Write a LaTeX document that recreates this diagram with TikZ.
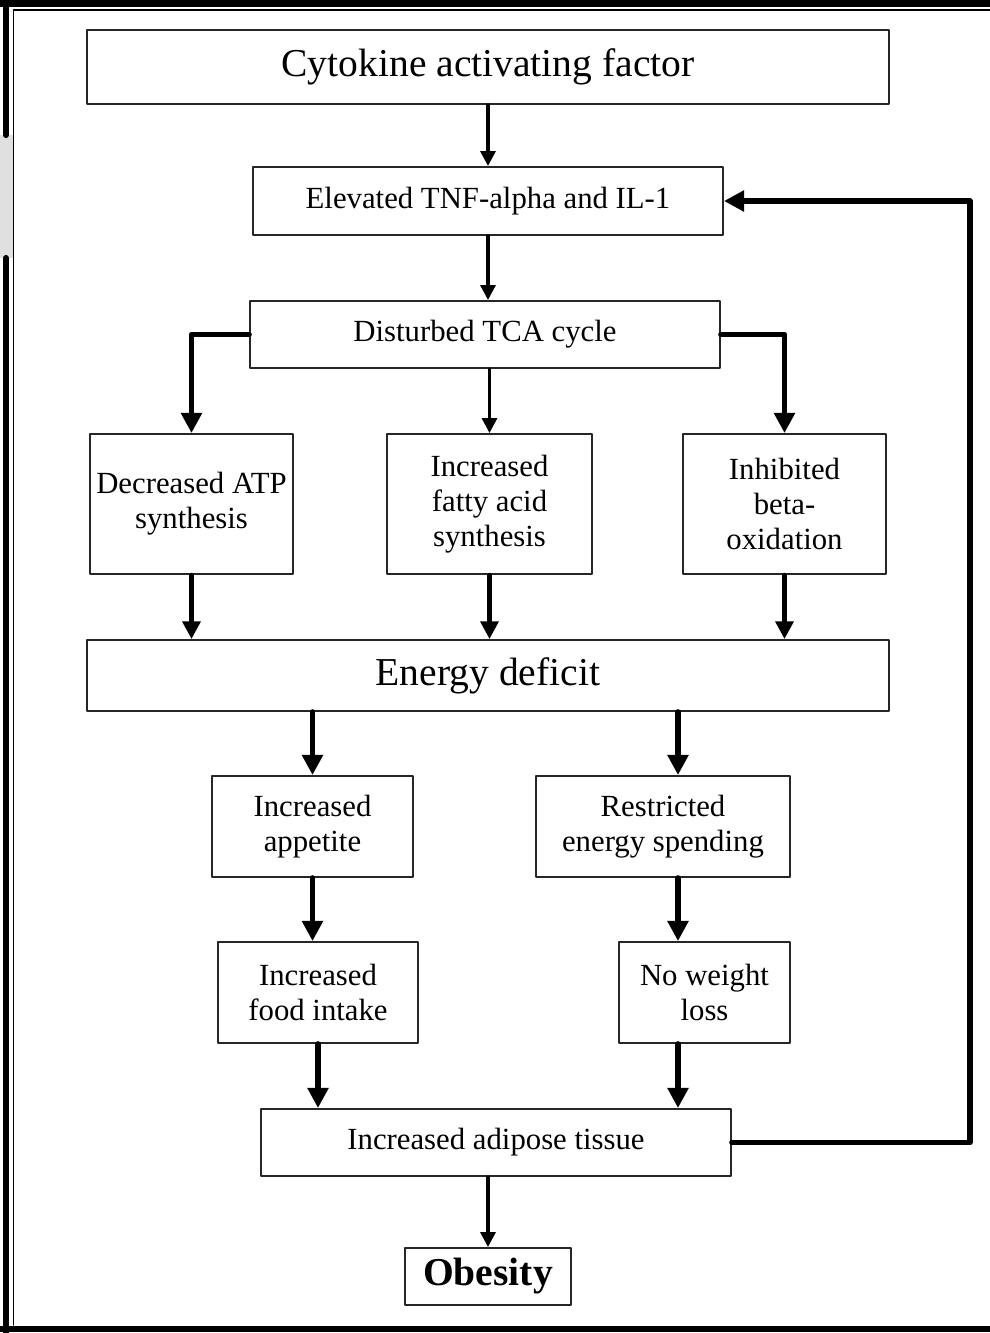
\documentclass[tikz,border=0pt]{standalone}
\usepackage{fontspec}
\setmainfont{Liberation Serif}
\usetikzlibrary{arrows.meta}
\tikzset{
  box/.style={draw=black!85,line width=1.1pt,inner sep=0pt,align=center,fill=white},
  bigtext/.style={font=\fontsize{22.5}{26}\selectfont},
  midtext/.style={font=\fontsize{17.5}{20}\selectfont},
  thinarrow/.style={-{Triangle[length=8.5pt,width=8.5pt]},line width=1.8pt},
  midarrow/.style={-{Triangle[length=10pt,width=10pt]},line width=2.4pt},
  thickarrow/.style={-{Triangle[length=11.5pt,width=11.5pt]},line width=3.2pt}
}

\begin{document}
\begin{tikzpicture}[line cap=round,line join=round,x=1.0cm,y=1.0cm]
        \clip(0.,-26.66) rectangle (19.8,0.);
        % frame
        \fill [black!12] (0.,-2.7) rectangle (0.28,-5.16);
        \draw [line width=4.pt] (0.,-0.07)-- (19.8,-0.07);
        \draw [line width=3.5pt] (0.12,0.)-- (0.12,-2.7);
        \draw [line width=3.5pt] (0.12,-5.16)-- (0.12,-26.66);
        \draw [line width=3.pt] (0.,-26.58)-- (19.8,-26.58);
        \draw [line width=0.8pt] (0.27,-0.2)-- (19.8,-0.2);
        \draw [line width=0.8pt] (0.27,-0.2)-- (0.27,-26.5);
        % boxes
        \node [box,bigtext,minimum width=16.04cm,minimum height=1.48cm] (cytokine) at (9.76,-1.34) {Cytokine activating factor};
        \node [box,midtext,minimum width=9.4cm,minimum height=1.36cm] (tnf) at (9.76,-4.02) {Elevated TNF-alpha and IL-1};
        \node [box,midtext,minimum width=9.4cm,minimum height=1.34cm] (tca) at (9.70,-6.69) {Disturbed TCA cycle};
        \node [box,midtext,minimum width=4.06cm,minimum height=2.8cm] (atp) at (3.83,-10.08) {Decreased ATP\\ synthesis};
        \node [box,midtext,minimum width=4.1cm,minimum height=2.8cm] (fatty) at (9.79,-10.08) {Increased\\ fatty acid\\ synthesis};
        \node [box,midtext,minimum width=4.06cm,minimum height=2.8cm] (beta) at (15.69,-10.08) {Inhibited\\ beta-\\ oxidation};
        \node [box,bigtext,minimum width=16.04cm,minimum height=1.42cm] (deficit) at (9.76,-13.51) {Energy deficit};
        \node [box,midtext,minimum width=4.02cm,minimum height=2.02cm] (appetite) at (6.25,-16.53) {Increased\\ appetite};
        \node [box,midtext,minimum width=5.08cm,minimum height=2.02cm] (spending) at (13.26,-16.53) {Restricted\\ energy spending};
        \node [box,midtext,minimum width=4.0cm,minimum height=2.02cm] (food) at (6.36,-19.85) {Increased\\ food intake};
        \node [box,midtext,minimum width=3.42cm,minimum height=2.02cm] (noloss) at (14.09,-19.85) {No weight\\ loss};
        \node [box,midtext,minimum width=9.4cm,minimum height=1.34cm] (adipose) at (9.92,-22.85) {Increased adipose tissue};
        \node [box,font=\fontsize{22.5}{26}\selectfont\bfseries,minimum width=3.32cm,minimum height=1.14cm] (obesity) at (9.76,-25.53) {Obesity};
        \coordinate (rcol) at (13.56,0.);
        \coordinate (fb) at (19.4,0.);
        % connectors
        \draw [thinarrow] (cytokine.south)-- (tnf.north);
        \draw [thinarrow] (tnf.south)-- (tnf.south |- tca.north);
        \draw [thickarrow] (tca.west) -| (atp.north);
        \draw [thinarrow] (fatty.north |- tca.south)-- (fatty.north);
        \draw [thickarrow] (tca.east) -| (beta.north);
        \draw [midarrow] (atp.south)-- (atp.south |- deficit.north);
        \draw [midarrow] (fatty.south)-- (fatty.south |- deficit.north);
        \draw [midarrow] (beta.south)-- (beta.south |- deficit.north);
        \draw [thickarrow] (appetite.north |- deficit.south)-- (appetite.north);
        \draw [thickarrow] (deficit.south -| rcol)-- (spending.north -| rcol);
        \draw [thickarrow] (appetite.south)-- (appetite.south |- food.north);
        \draw [thickarrow] (spending.south -| rcol)-- (noloss.north -| rcol);
        \draw [thickarrow] (food.south)-- (food.south |- adipose.north);
        \draw [thickarrow] (noloss.south -| rcol)-- (adipose.north -| rcol);
        \draw [thinarrow] (obesity.north |- adipose.south)-- (obesity.north);
        \draw [thickarrow] (adipose.east)-- (adipose.east -| fb) |- (tnf.east);
    \end{tikzpicture}
\end{document}
